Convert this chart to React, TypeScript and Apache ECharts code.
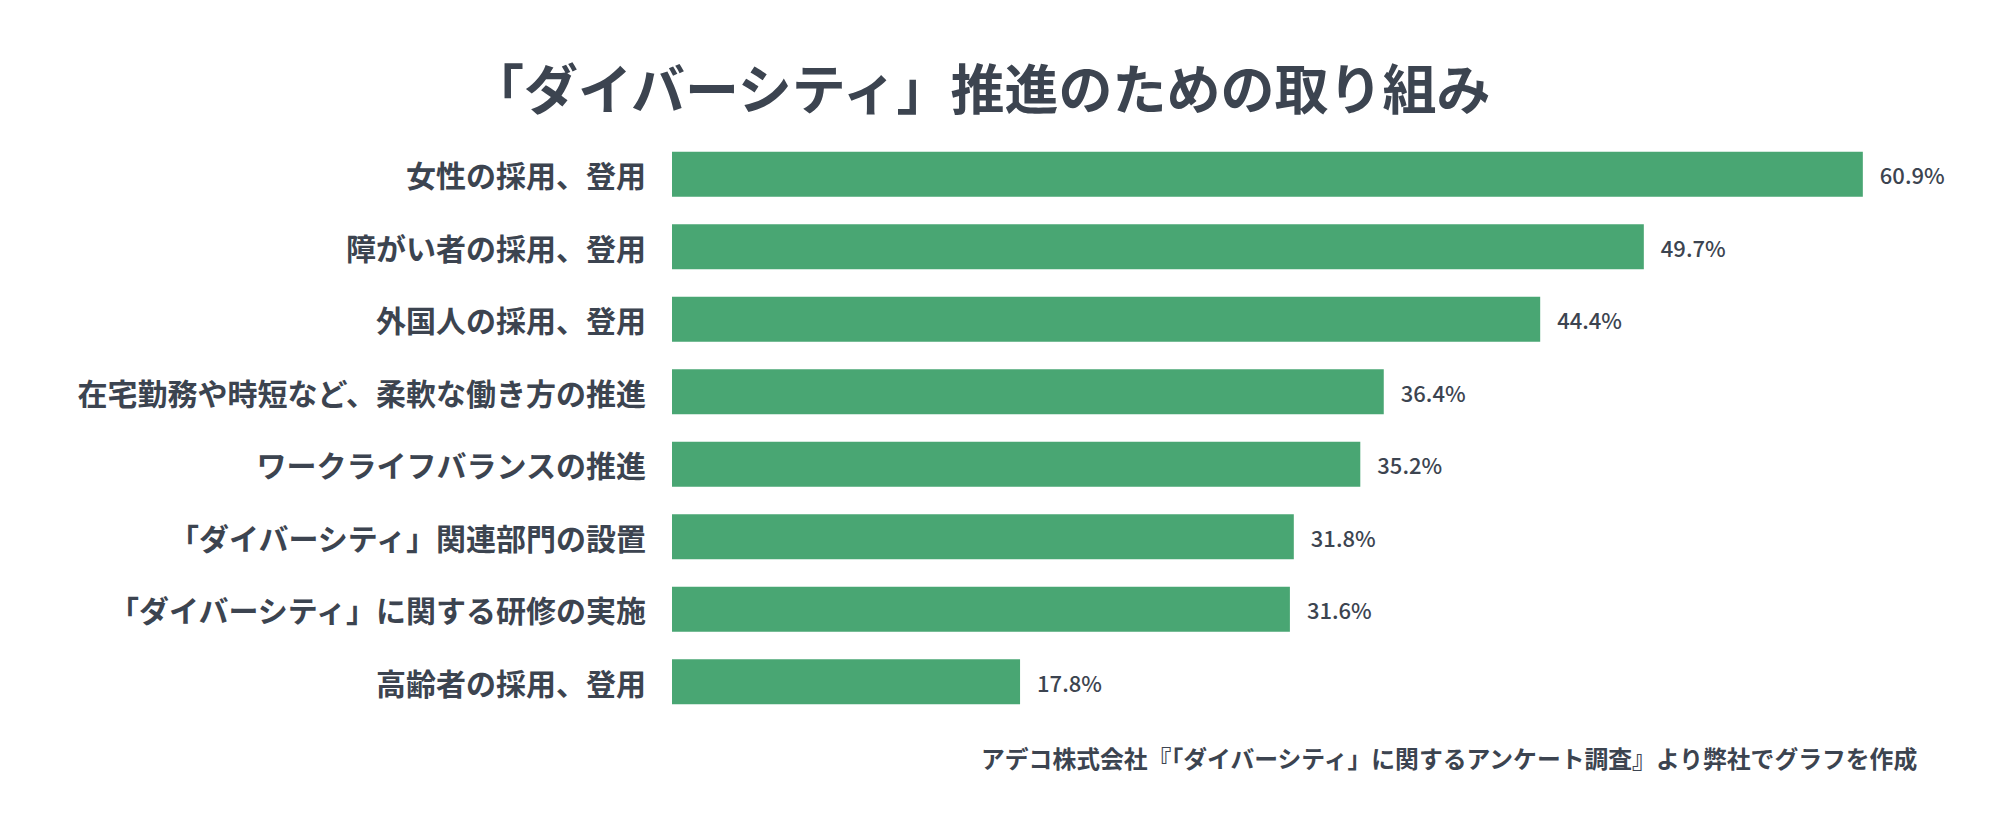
import React, { useEffect, useRef } from "react";
import * as echarts from "echarts";

const titleText = "「ダイバーシティ」推進のための取り組み";
const sourceText = "アデコ株式会社『「ダイバーシティ」に関するアンケート調査』より弊社でグラフを作成";

const categories = [
  "女性の採用、登用",
  "障がい者の採用、登用",
  "外国人の採用、登用",
  "在宅勤務や時短など、柔軟な働き方の推進",
  "ワークライフバランスの推進",
  "「ダイバーシティ」関連部門の設置",
  "「ダイバーシティ」に関する研修の実施",
  "高齢者の採用、登用",
];
const values = [60.9, 49.7, 44.4, 36.4, 35.2, 31.8, 31.6, 17.8];

const FONT = "'Noto Sans CJK JP', 'Noto Sans', sans-serif";
const TEXT = "#3c4450";
const GREEN = "#49a673";

export default function App() {
  const ref = useRef<HTMLDivElement>(null);
  useEffect(() => {
    if (!ref.current) return;
    const chart = echarts.init(ref.current, undefined, { renderer: "svg" });
    chart.setOption({
      animation: false,
      backgroundColor: "#ffffff",
      textStyle: { fontFamily: FONT },
      title: {
        text: titleText,
        left: 465,
        top: 54,
        textStyle: { fontFamily: FONT, fontSize: 54, fontWeight: "bold", color: TEXT },
      },
      grid: { left: 672, right: 56, top: 138, bottom: 118, containLabel: false },
      xAxis: {
        type: "value",
        min: 0,
        max: 65,
        show: false,
      },
      yAxis: {
        type: "category",
        data: categories,
        inverse: true,
        axisLine: { show: false },
        axisTick: { show: false },
        splitLine: { show: false },
        axisLabel: {
          margin: 26,
          fontFamily: FONT,
          fontSize: 30,
          fontWeight: "bold",
          color: TEXT,
        },
      },
      series: [
        {
          type: "bar",
          data: values,
          barWidth: 45,
          itemStyle: { color: GREEN },
          label: {
            show: true,
            position: "right",
            distance: 17,
            formatter: (p: any) => `${Number(p.value).toFixed(1)}%`,
            fontFamily: FONT,
            fontSize: 22,
            fontWeight: 500,
            color: TEXT,
          },
        },
      ],
      graphic: [
        {
          type: "text",
          right: 78,
          top: 746,
          style: {
            text: sourceText,
            fontFamily: FONT,
            fontSize: 23.8,
            fontWeight: "bold",
            fill: TEXT,
          },
        },
      ],
    });
    return () => chart.dispose();
  }, []);
  return (
    <div
      ref={ref}
      style={{ position: "fixed", left: 0, top: 0, width: 1999, height: 836 }}
    />
  );
}
